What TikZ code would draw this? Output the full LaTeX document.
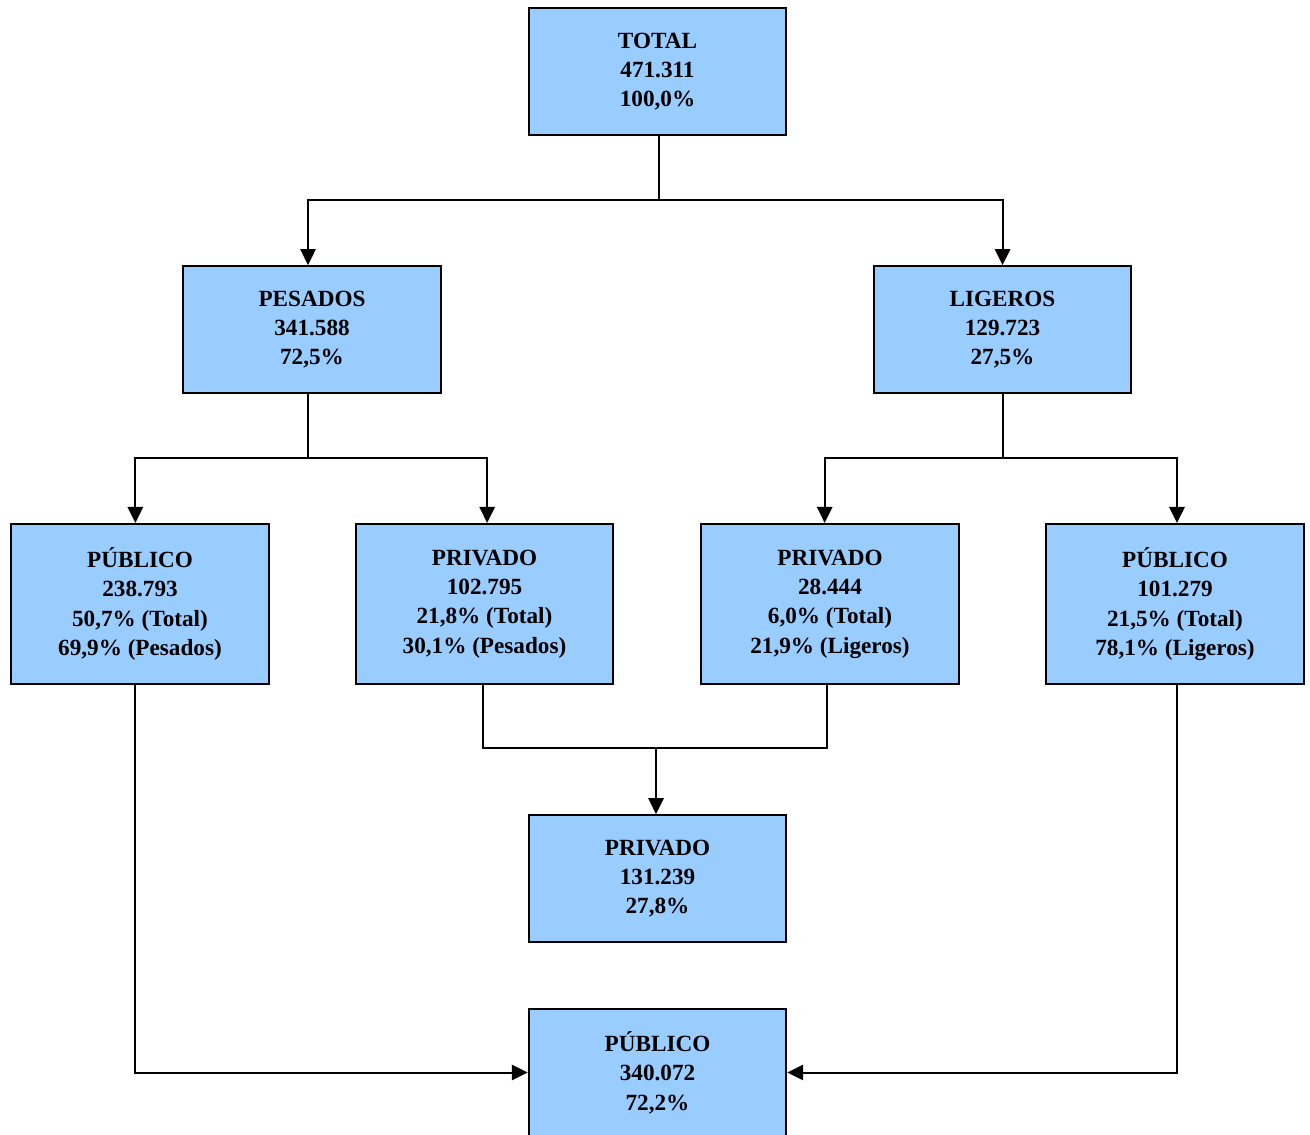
\documentclass[tikz,border=0pt]{standalone}
\usepackage{fontspec}
\setmainfont{Liberation Serif}
\usetikzlibrary{arrows.meta}
\definecolor{boxblue}{HTML}{99CCFF}
\tikzset{
  box/.style={draw=black, line width=1.6pt, fill=boxblue, rectangle,
    minimum width=193pt, align=center, inner sep=0pt,
    font=\fontsize{17.4}{22}\selectfont\bfseries},
  box3/.style={box, minimum height=95pt},
  box4/.style={box, minimum height=120pt},
  conn/.style={line width=1.5pt},
  arr/.style={conn, -{Triangle[length=12pt,width=11.5pt]}}
}
\begin{document}
\begin{tikzpicture}[x=0.75pt,y=-0.75pt]
\clip (0,0) rectangle (1310,1135);
\fill[white] (0,0) rectangle (1310,1135);
\node[box3] (total) at (657.5,71.5) {TOTAL\\471.311\\100,0\%};
\node[box3] (pes) at (312,329.5) {PESADOS\\341.588\\72,5\%};
\node[box3] (lig) at (1002.5,329.5) {LIGEROS\\129.723\\27,5\%};
\node[box4] (pubL) at (140,604) {PÚBLICO\\238.793\\50,7\% (Total)\\69,9\% (Pesados)};
\node[box4] (prL) at (484.5,604) {PRIVADO\\102.795\\21,8\% (Total)\\30,1\% (Pesados)};
\node[box4] (prR) at (830,604) {PRIVADO\\28.444\\6,0\% (Total)\\21,9\% (Ligeros)};
\node[box4] (pubR) at (1175,604) {PÚBLICO\\101.279\\21,5\% (Total)\\78,1\% (Ligeros)};
\node[box3] (prT) at (657.5,878.5) {PRIVADO\\131.239\\27,8\%};
\node[box3] (pubT) at (657.5,1072.5) {PÚBLICO\\340.072\\72,2\%};
% connectors
\coordinate (j1) at (659,200);
\draw[conn] (total.south -| j1) -- (j1);
\draw[arr] (j1) -| ([xshift=-3pt]pes.north);
\draw[arr] (j1) -| (lig.north);
\coordinate (j2) at (308,458);
\draw[conn] (pes.south -| j2) -- (j2);
\draw[arr] (j2) -| ([xshift=-3.5pt]pubL.north);
\draw[arr] (j2) -| ([xshift=2pt]prL.north);
\coordinate (j3) at (1003,458);
\draw[conn] (lig.south -| j3) -- (j3);
\draw[arr] (j3) -| ([xshift=-4pt]prR.north);
\draw[arr] (j3) -| ([xshift=1.5pt]pubR.north);
\coordinate (j4) at (656,748);
\draw[conn] ([xshift=-1pt]prL.south) |- (j4) -| ([xshift=-2pt]prR.south);
\draw[arr] (j4) -- (prT.north -| j4);
\draw[arr] ([xshift=-3.5pt]pubL.south) |- (pubT.west);
\draw[arr] ([xshift=1.5pt]pubR.south) |- (pubT.east);
\end{tikzpicture}
\end{document}
